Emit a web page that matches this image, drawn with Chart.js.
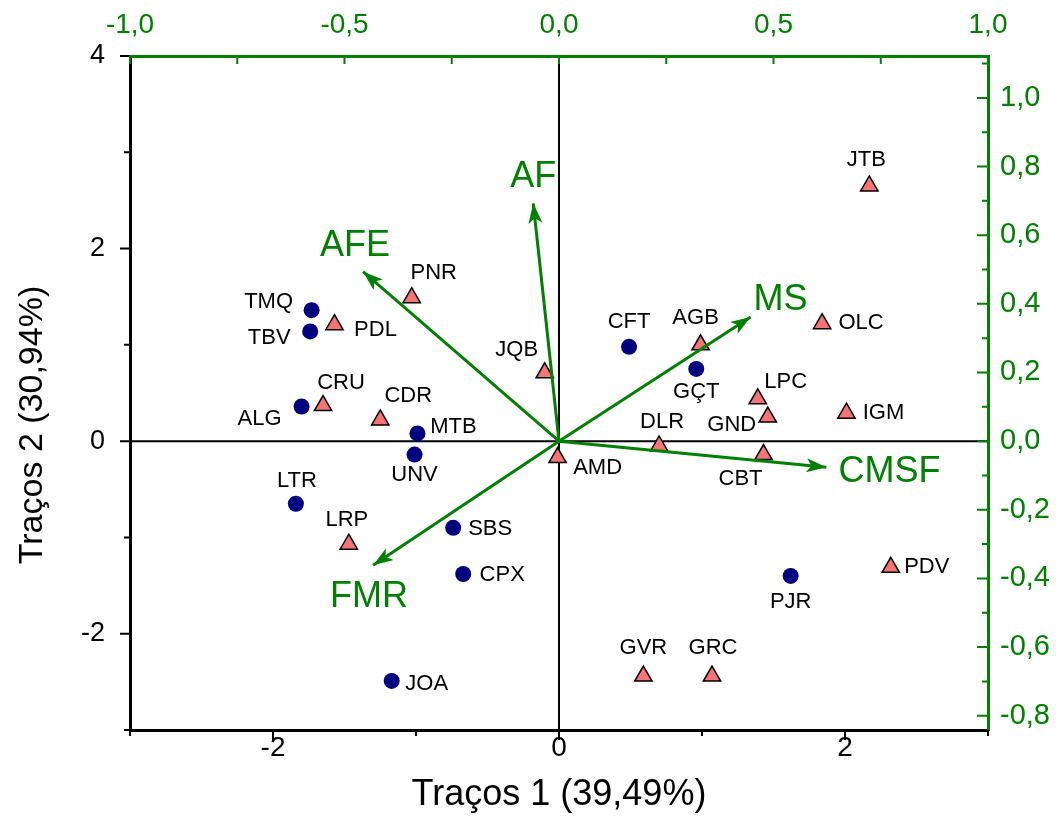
<!DOCTYPE html>
<html>
<head>
<meta charset="utf-8">
<script src="https://cdn.jsdelivr.net/npm/chart.js@4.4.1/dist/chart.umd.min.js"></script>
<style>
  html, body { margin: 0; padding: 0; background: #fff; }
  #wrap { width: 1059px; height: 839px; }
</style>
</head>
<body>
<div id="wrap"><canvas id="biplot"></canvas></div>
<script>
// genotypes shown as blue circles
const circleNames = ["TMQ", "TBV", "ALG", "MTB", "UNV", "LTR", "SBS", "CPX", "JOA", "CFT", "GÇT", "PJR"];
const circleX = [-1.73, -1.74, -1.80, -0.99, -1.01, -1.84, -0.74, -0.67, -1.17, 0.49, 0.96, 1.62];
const circleY = [1.36, 1.14, 0.36, 0.08, -0.14, -0.65, -0.90, -1.38, -2.49, 0.98, 0.75, -1.40];

// genotypes shown as red triangles
const triangleNames = ["PNR", "PDL", "CRU", "CDR", "JQB", "AMD", "LRP", "AGB", "DLR", "LPC", "GND", "CBT", "OLC", "IGM", "JTB", "PDV", "GVR", "GRC"];
const triangleX = [-1.03, -1.57, -1.65, -1.25, -0.10, -0.01, -1.47, 0.99, 0.70, 1.39, 1.46, 1.43, 1.84, 2.01, 2.17, 2.32, 0.59, 1.07];
const triangleY = [1.49, 1.21, 0.37, 0.22, 0.71, -0.17, -1.07, 1.00, -0.05, 0.44, 0.25, -0.14, 1.22, 0.29, 2.65, -1.31, -2.44, -2.44];

// trait vectors (loadings, drawn in the score scale)
const vectorNames = ["AF", "AFE", "MS", "CMSF", "FMR"];
const vectorX = [-0.18, -1.37, 1.34, 1.87, -1.30];
const vectorY = [2.47, 1.76, 1.29, -0.27, -1.29];

// axes
const xMin = -3, xMax = 3, yMin = -3, yMax = 4;
const bottomTicks = [-2, 0, 2];
const leftTicks = [-2, 0, 2, 4];
const topTicks = [-1, -0.5, 0, 0.5, 1];
const rightTicks = [-0.8, -0.6, -0.4, -0.2, 0, 0.2, 0.4, 0.6, 0.8, 1.0];
const topFactor = 3;       // top axis = bottom / 3
const rightFactor = 3.565; // right axis = left / 3.565
const xTitle = "Traços 1 (39,49%)";
const yTitle = "Traços 2 (30,94%)";

// label placement (pixel offsets from the marker)
const labelOffset = {
  TMQ: [-43, -8], TBV: [-41, 7], ALG: [-42, 12], MTB: [36, -7], UNV: [0, 20], LTR: [1, -23],
  SBS: [37, 1], CPX: [39, 1], JOA: [35, 3], CFT: [0, -25], "GÇT": [0, 23], PJR: [0, 26],
  PNR: [22, -25], PDL: [41, 5], CRU: [18, -23], CDR: [28, -24], JQB: [-28, -23], AMD: [40, 10],
  LRP: [-2, -24], AGB: [-5, -27], DLR: [3, -24], LPC: [28, -17], GND: [-36, 8], CBT: [-23, 24],
  OLC: [39, -1], IGM: [37, 0], JTB: [-3, -26], PDV: [36, 0], GVR: [0, -28], GRC: [1, -28]
};
const vectorLabelOffset = { AF: [0, -26], AFE: [-8, -26], MS: [30, -17], CMSF: [63, 5], FMR: [-4, 32] };

const GREEN = "#008000";
const NAVY = "#000080";
const SALMON = "#F87373";
const SANS = '"Liberation Sans", Arial, sans-serif';

const comma = (v) => v.toFixed(1).replace(".", ",");

function toPoints(xs, ys) {
  return xs.map((x, i) => ({ x: x, y: ys[i] }));
}

const vectorSets = vectorNames.map((n, i) => ({
  label: n,
  data: [{ x: 0, y: 0 }, { x: vectorX[i], y: vectorY[i] }],
  showLine: true,
  borderColor: GREEN,
  borderWidth: 3,
  pointRadius: 0,
  fill: false
}));

function tickMarks(ctx, scale, values, len, side) {
  const a = scale.chart.chartArea;
  ctx.beginPath();
  values.forEach((v) => {
    const p = scale.getPixelForValue(v);
    if (side === "bottom") { ctx.moveTo(p, a.bottom); ctx.lineTo(p, a.bottom + len); }
    if (side === "left") { ctx.moveTo(a.left, p); ctx.lineTo(a.left - len, p); }
    if (side === "top") { ctx.moveTo(p, a.top); ctx.lineTo(p, a.top + len); }
    if (side === "right") { ctx.moveTo(a.right, p); ctx.lineTo(a.right - len, p); }
  });
  ctx.stroke();
}

function range(from, to, step) {
  const out = [];
  for (let v = from; v <= to + 1e-9; v += step) out.push(Math.round(v * 100) / 100);
  return out;
}

const biplotDecor = {
  id: "biplotDecor",
  beforeDatasetsDraw(chart) {
    const { ctx, chartArea: a, scales } = chart;
    const x0 = scales.x.getPixelForValue(0);
    const y0 = scales.y.getPixelForValue(0);
    ctx.save();
    ctx.strokeStyle = "#000";
    ctx.lineWidth = 2;
    ctx.beginPath();
    ctx.moveTo(x0, a.top); ctx.lineTo(x0, a.bottom);
    ctx.moveTo(a.left, y0); ctx.lineTo(a.right, y0);
    ctx.stroke();
    ctx.restore();
  },
  afterDatasetsDraw(chart) {
    const { ctx, scales } = chart;
    ctx.save();
    // arrow heads + trait names
    vectorNames.forEach((n, i) => {
      const x0 = scales.x.getPixelForValue(0), y0 = scales.y.getPixelForValue(0);
      const x1 = scales.x.getPixelForValue(vectorX[i]), y1 = scales.y.getPixelForValue(vectorY[i]);
      const ang = Math.atan2(y1 - y0, x1 - x0);
      const L = 20, W = 7;
      ctx.fillStyle = GREEN;
      ctx.beginPath();
      ctx.moveTo(x1, y1);
      ctx.lineTo(x1 - L * Math.cos(ang) + W * Math.sin(ang), y1 - L * Math.sin(ang) - W * Math.cos(ang));
      ctx.lineTo(x1 - L * 0.75 * Math.cos(ang), y1 - L * 0.75 * Math.sin(ang));
      ctx.lineTo(x1 - L * Math.cos(ang) - W * Math.sin(ang), y1 - L * Math.sin(ang) + W * Math.cos(ang));
      ctx.closePath();
      ctx.fill();
      const off = vectorLabelOffset[n];
      ctx.font = "36px " + SANS;
      ctx.textAlign = "center";
      ctx.textBaseline = "middle";
      ctx.fillText(n, x1 + off[0], y1 + off[1]);
    });
    // genotype labels
    ctx.fillStyle = "#000";
    ctx.font = "22px " + SANS;
    ctx.textAlign = "center";
    ctx.textBaseline = "middle";
    chart.data.datasets.forEach((ds, di) => {
      if (!ds.names) return;
      const meta = chart.getDatasetMeta(di);
      meta.data.forEach((el, i) => {
        const off = labelOffset[ds.names[i]] || [0, -20];
        ctx.fillText(ds.names[i], el.x + off[0], el.y + off[1]);
      });
    });
    ctx.restore();
  },
  afterDraw(chart) {
    const { ctx, scales } = chart;
    ctx.save();
    ctx.lineWidth = 2;
    ctx.strokeStyle = "#000";
    tickMarks(ctx, scales.x, bottomTicks, 10, "bottom");
    tickMarks(ctx, scales.x, range(xMin, xMax, 1).filter((v) => !bottomTicks.includes(v)), 6, "bottom");
    tickMarks(ctx, scales.y, leftTicks, 10, "left");
    tickMarks(ctx, scales.y, range(yMin, yMax, 1).filter((v) => !leftTicks.includes(v)), 6, "left");
    ctx.strokeStyle = GREEN;
    tickMarks(ctx, scales.x2, range(-1, 1, 0.25), 8, "top");
    tickMarks(ctx, scales.y2, rightTicks, 11, "right");
    tickMarks(ctx, scales.y2, range(-0.7, 1.1, 0.2), 6, "right");
    // left axis title, set a little below the plot centre as in the original
    ctx.fillStyle = "#000";
    ctx.font = "34px " + SANS;
    ctx.textAlign = "center";
    ctx.textBaseline = "middle";
    ctx.translate(33, 425);
    ctx.rotate(-Math.PI / 2);
    ctx.fillText(yTitle, 0, 0);
    ctx.restore();
  }
};

const fixedTicks = (list) => (scale) => { scale.ticks = list.map((v) => ({ value: v })); };

new Chart(document.getElementById("biplot"), {
  type: "scatter",
  data: {
    datasets: [
      ...vectorSets,
      {
        label: "Grupo 1",
        names: circleNames,
        data: toPoints(circleX, circleY),
        pointStyle: "circle",
        pointRadius: 8,
        backgroundColor: NAVY,
        borderColor: NAVY,
        borderWidth: 0
      },
      {
        label: "Grupo 2",
        names: triangleNames,
        data: toPoints(triangleX, triangleY),
        pointStyle: "triangle",
        pointRadius: 10,
        backgroundColor: SALMON,
        borderColor: "#000",
        borderWidth: 1.5
      }
    ]
  },
  options: {
    responsive: true,
    maintainAspectRatio: false,
    animation: false,
    layout: { padding: 0 },
    plugins: { legend: { display: false }, tooltip: { enabled: false } },
    scales: {
      x: {
        type: "linear", position: "bottom", min: xMin, max: xMax,
        afterBuildTicks: fixedTicks(bottomTicks),
        afterFit: (s) => { s.height = 109; },
        grid: { display: false, drawTicks: false },
        border: { display: true, color: "#000", width: 3 },
        ticks: { color: "#000", padding: 4, font: { family: SANS, size: 28, lineHeight: 1 }, callback: (v) => String(v) },
        title: { display: true, text: xTitle, color: "#000", font: { family: SANS, size: 36 }, padding: { top: 0, bottom: 22 } }
      },
      y: {
        type: "linear", position: "left", min: yMin, max: yMax,
        afterBuildTicks: fixedTicks(leftTicks),
        afterFit: (s) => { s.width = 130; },
        grid: { display: false, drawTicks: false },
        border: { display: true, color: "#000", width: 3 },
        ticks: { color: "#000", padding: 25, font: { family: SANS, size: 27 }, callback: (v) => String(v) }
      },
      x2: {
        type: "linear", position: "top", min: xMin / topFactor, max: xMax / topFactor,
        afterBuildTicks: fixedTicks(topTicks),
        afterFit: (s) => { s.height = 56; },
        grid: { display: false, drawTicks: false },
        border: { display: true, color: GREEN, width: 3 },
        ticks: { color: GREEN, padding: 17, font: { family: SANS, size: 28, lineHeight: 1 }, callback: (v) => comma(v) }
      },
      y2: {
        type: "linear", position: "right", min: yMin / rightFactor, max: yMax / rightFactor,
        afterBuildTicks: fixedTicks(rightTicks),
        afterFit: (s) => { s.width = 71; },
        grid: { display: false, drawTicks: false },
        border: { display: true, color: GREEN, width: 3 },
        ticks: { color: GREEN, padding: 12, font: { family: SANS, size: 29 }, callback: (v) => comma(v) }
      }
    }
  },
  plugins: [biplotDecor]
});
</script>
</body>
</html>
